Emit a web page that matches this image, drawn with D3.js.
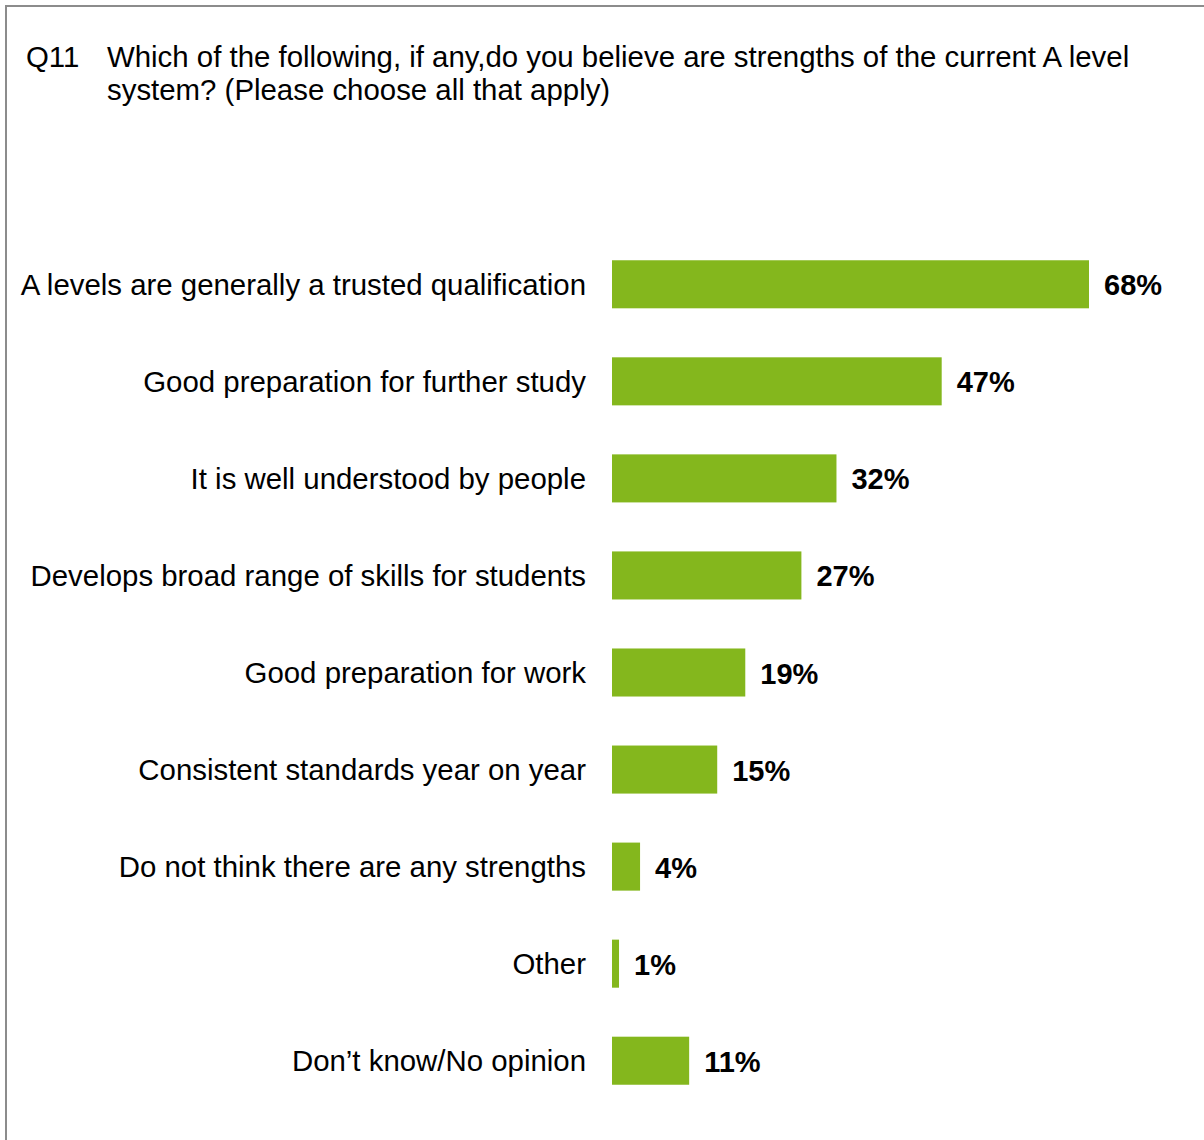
<!DOCTYPE html>
<html>
<head>
<meta charset="utf-8">
<script src="https://cdn.jsdelivr.net/npm/d3@7"></script>
<style>
  html, body { margin: 0; padding: 0; background: #fff; }
  svg { display: block; font-family: "Liberation Sans", Arial, sans-serif; }
</style>
</head>
<body>
<svg id="chart" width="1204" height="1140"></svg>
<script>
// Survey responses: share of respondents naming each strength
const categories = [
  "A levels are generally a trusted qualification",
  "Good preparation for further study",
  "It is well understood by people",
  "Develops broad range of skills for students",
  "Good preparation for work",
  "Consistent standards year on year",
  "Do not think there are any strengths",
  "Other",
  "Don\u2019t know/No opinion"
];
const values = [68, 47, 32, 27, 19, 15, 4, 1, 11];
const titleLines = [
  "Which of the following, if any,do you believe are strengths of the current A level",
  "system? (Please choose all that apply)"
];

const svg = d3.select("#chart");

// Frame
svg.append("rect")
  .attr("x", 6).attr("y", 6)
  .attr("width", 1204).attr("height", 1140)
  .attr("fill", "none")
  .attr("stroke", "#8c8c8c")
  .attr("stroke-width", 2);

// Title
svg.append("text")
  .attr("x", 26).attr("y", 67)
  .attr("font-size", 29.4).attr("fill", "#000")
  .text("Q11");
svg.selectAll("text.title")
  .data(titleLines)
  .join("text")
  .attr("class", "title")
  .attr("x", 107)
  .attr("y", (d, i) => 67 + i * 33)
  .attr("font-size", 29.4).attr("fill", "#000")
  .text(d => d);

// Scales
const x = d3.scaleLinear().domain([0, 68]).range([612, 1089]);
const y = d3.scaleBand()
  .domain(categories)
  .range([236, 1109])
  .paddingInner(0.505)
  .paddingOuter(0.25);

const rows = categories.map((c, i) => ({ c, v: values[i] }));

svg.selectAll("rect.bar")
  .data(rows)
  .join("rect")
  .attr("class", "bar")
  .attr("x", x(0))
  .attr("y", d => y(d.c))
  .attr("width", d => x(d.v) - x(0))
  .attr("height", y.bandwidth())
  .attr("fill", "#84b71d");

// Category labels
svg.selectAll("text.cat")
  .data(rows)
  .join("text")
  .attr("class", "cat")
  .attr("x", 586)
  .attr("y", d => y(d.c) + y.bandwidth() / 2)
  .attr("dy", "0.35em")
  .attr("text-anchor", "end")
  .attr("font-size", 29.4)
  .attr("fill", "#000")
  .text(d => d.c);

// Value labels
svg.selectAll("text.val")
  .data(rows)
  .join("text")
  .attr("class", "val")
  .attr("x", d => x(d.v) + 15)
  .attr("y", d => y(d.c) + y.bandwidth() / 2)
  .attr("dy", "0.38em")
  .attr("font-size", 29)
  .attr("font-weight", "bold")
  .attr("fill", "#000")
  .text(d => d.v + "%");
</script>
</body>
</html>
